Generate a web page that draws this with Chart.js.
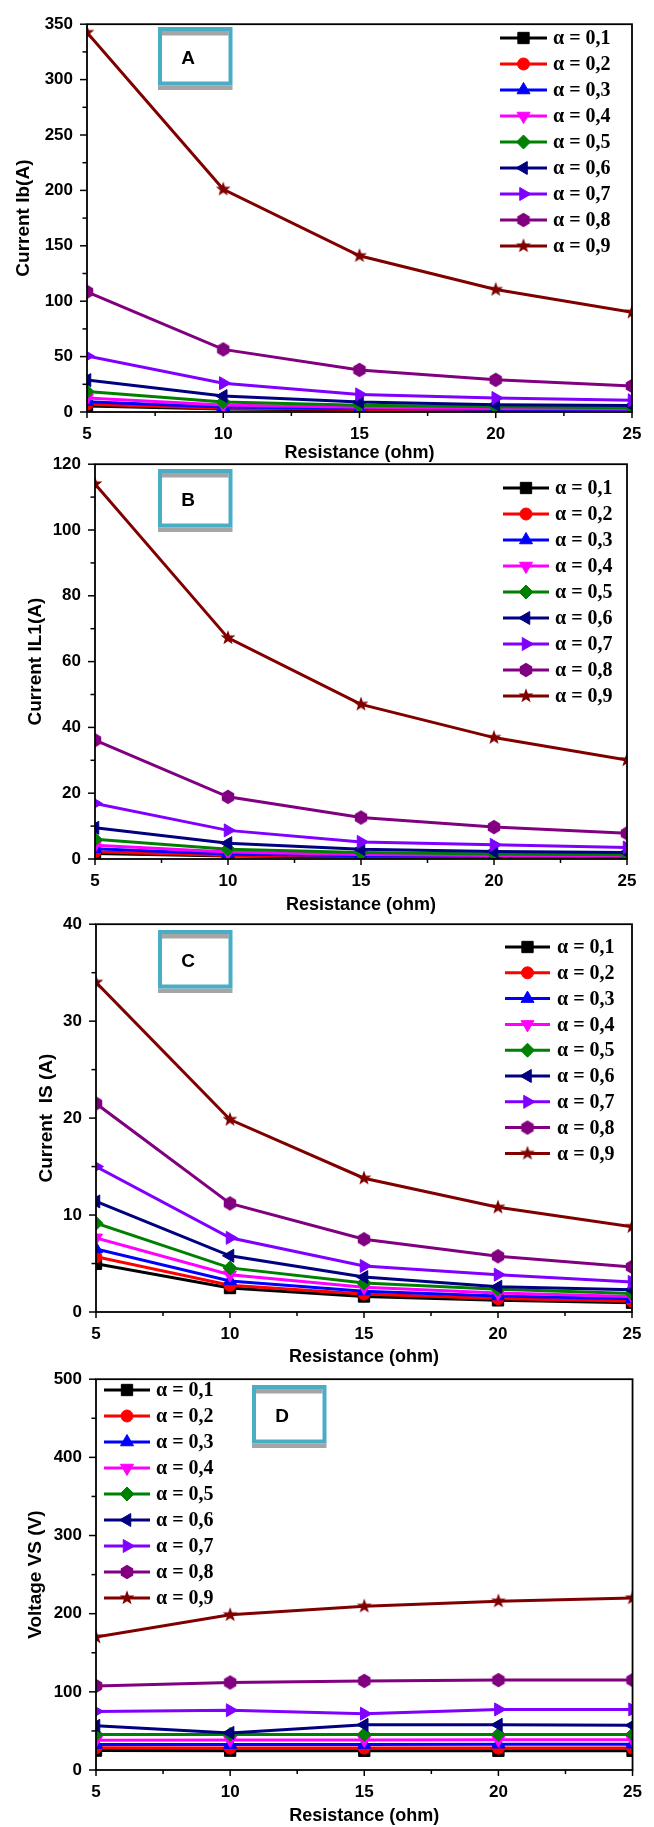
<!DOCTYPE html>
<html>
<head>
<meta charset="utf-8">
<script src="https://cdn.jsdelivr.net/npm/chart.js@4.4.0/dist/chart.umd.min.js"></script>
<style>
  html, body { margin: 0; padding: 0; background: #fff; }
  #page { position: relative; width: 654px; height: 1827px; overflow: hidden; background: #fff; }
  #page canvas { position: absolute; left: 0; }
</style>
</head>
<body>
<div id="page">
  <canvas id="chartA" width="654" height="470" style="top:0px"></canvas>
  <canvas id="chartB" width="654" height="480" style="top:440px"></canvas>
  <canvas id="chartC" width="654" height="470" style="top:900px"></canvas>
  <canvas id="chartD" width="654" height="472" style="top:1355px"></canvas>
</div>
<script>
// ── data ──
const resistance = [5, 10, 15, 20, 25];
const resistanceTicks = [5, 10, 15, 20, 25];
const alphaNames = ['α = 0,1','α = 0,2','α = 0,3','α = 0,4','α = 0,5','α = 0,6','α = 0,7','α = 0,8','α = 0,9'];

// A: current Ib (A)
const currentIb = [
  [5.5, 2.8, 1.8, 1.4, 1.1],
  [7.1, 3.4, 2.4, 1.7, 1.4],
  [9.3, 4.6, 3.1, 2.4, 2.0],
  [12.7, 6.4, 4.3, 3.2, 2.7],
  [18.4, 9.1, 6.0, 4.7, 3.8],
  [28.8, 14.4, 9.0, 6.6, 5.8],
  [50.5, 26.0, 15.9, 12.6, 10.6],
  [108.5, 56.5, 38.0, 29.0, 23.5],
  [342.5, 201, 141, 110.5, 90]
];
const ibTicks = [0, 50, 100, 150, 200, 250, 300, 350];

// B: current IL1 (A)
const currentIL1 = [
  [1.7, 0.9, 0.6, 0.45, 0.35],
  [2.2, 1.1, 0.8, 0.6, 0.45],
  [3.1, 1.5, 1.0, 0.8, 0.65],
  [4.2, 2.1, 1.4, 1.1, 0.9],
  [6.0, 3.0, 2.0, 1.5, 1.3],
  [9.5, 4.8, 3.0, 2.3, 2.0],
  [16.9, 8.7, 5.2, 4.3, 3.5],
  [36.1, 18.9, 12.6, 9.7, 7.8],
  [114, 67.2, 47, 36.9, 30.1]
];
const il1Ticks = [0, 20, 40, 60, 80, 100, 120];

// C: current IS (A)
const currentIS = [
  [4.97, 2.47, 1.6, 1.2, 0.96],
  [5.7, 2.75, 1.85, 1.38, 1.12],
  [6.5, 3.2, 2.15, 1.65, 1.37],
  [7.65, 3.85, 2.55, 1.95, 1.6],
  [9.15, 4.55, 3.0, 2.35, 1.9],
  [11.4, 5.8, 3.6, 2.6, 2.3],
  [15.0, 7.65, 4.75, 3.85, 3.1],
  [21.5, 11.2, 7.5, 5.75, 4.65],
  [34, 19.85, 13.8, 10.8, 8.8]
];
const isTicks = [0, 10, 20, 30, 40];

// D: voltage VS (V)
const voltageVS = [
  [24.8, 24.7, 24.6, 24.6, 24.6],
  [28.5, 28, 28, 28, 28],
  [32.5, 32.5, 32.5, 33, 33],
  [38.2, 38.5, 38.5, 38.8, 38.8],
  [45.5, 45.5, 45.5, 45.5, 45.5],
  [56.5, 47.5, 57.8, 57.8, 57.2],
  [75, 76.5, 72, 77.5, 77.5],
  [107.5, 112, 114, 115, 115],
  [170, 198.5, 209.5, 216, 220]
];
const vsTicks = [0, 100, 200, 300, 400, 500];

// ── styles ──
const colors = ['#000000','#ff0000','#0000ff','#ff00ff','#008000','#000080','#8000ff','#800080','#800000'];
const sansBold = "'Liberation Sans', Arial, sans-serif";

function shapeCanvas(color, kind) {
  const c = document.createElement('canvas');
  c.width = 18; c.height = 18;
  const g = c.getContext('2d');
  g.fillStyle = color;
  g.beginPath();
  if (kind === 'hex') {
    for (let k = 0; k < 6; k++) {
      const a = -Math.PI / 2 + k * Math.PI / 3;
      g.lineTo(9 + 7.2 * Math.cos(a), 9 + 7.2 * Math.sin(a));
    }
  } else {
    for (let k = 0; k < 10; k++) {
      const a = -Math.PI / 2 + k * Math.PI / 5;
      const r = k % 2 ? 3.2 : 7.8;
      g.lineTo(9 + r * Math.cos(a), 9 + r * Math.sin(a));
    }
  }
  g.closePath();
  g.fill();
  return c;
}

const markers = [
  { style: 'rect', rot: 0, r: 8 },
  { style: 'circle', rot: 0, r: 6 },
  { style: 'triangle', rot: 0, r: 7.5 },
  { style: 'triangle', rot: 180, r: 7.5 },
  { style: 'rectRot', rot: 0, r: 7 },
  { style: 'triangle', rot: 270, r: 7.5 },
  { style: 'triangle', rot: 90, r: 7.5 },
  { style: shapeCanvas(colors[7], 'hex'), rot: 0, r: 7 },
  { style: shapeCanvas(colors[8], 'star'), rot: 0, r: 7 }
];

// ── plugins ──
const frameTicks = {
  id: 'frameTicks',
  afterDatasetsDraw(chart) {
    const { ctx, chartArea: a, scales: { x, y } } = chart;
    ctx.save();
    ctx.strokeStyle = '#000';
    ctx.lineWidth = 1.8;
    ctx.strokeRect(a.left, a.top, a.right - a.left, a.bottom - a.top);
    ctx.lineWidth = 1.5;
    const seg = (x0, y0, x1, y1) => { ctx.beginPath(); ctx.moveTo(x0, y0); ctx.lineTo(x1, y1); ctx.stroke(); };
    const xs = x.options.ticks.stepSize, ys = y.options.ticks.stepSize;
    for (let v = x.min; v <= x.max + 1e-9; v += xs / 2) {
      const px = x.getPixelForValue(v);
      const major = Math.abs((v - x.min) / xs - Math.round((v - x.min) / xs)) < 1e-6;
      seg(px, a.bottom, px, a.bottom + (major ? 6 : 4));
    }
    for (let v = y.min; v <= y.max + 1e-9; v += ys / 2) {
      const py = y.getPixelForValue(v);
      const major = Math.abs(v / ys - Math.round(v / ys)) < 1e-6;
      seg(a.left, py, a.left - (major ? 7 : 4.5), py);
    }
    ctx.restore();
  }
};

const alphaLegend = {
  id: 'alphaLegend',
  afterDraw(chart, args, o) {
    const ctx = chart.ctx;
    ctx.save();
    chart.data.datasets.forEach((ds, i) => {
      const y = o.y + i * o.step;
      ctx.strokeStyle = ds.borderColor;
      ctx.lineWidth = 3;
      ctx.beginPath(); ctx.moveTo(o.x0, y); ctx.lineTo(o.x1, y); ctx.stroke();
      ctx.fillStyle = ds.pointBackgroundColor;
      ctx.lineWidth = 1;
      Chart.helpers.drawPoint(ctx, { pointStyle: ds.pointStyle, rotation: ds.pointRotation, radius: ds.pointRadius, borderWidth: 1 }, (o.x0 + o.x1) / 2, y);
      ctx.fillStyle = '#000';
      ctx.font = "bold 20px 'Liberation Serif', 'Times New Roman', serif";
      ctx.textAlign = 'left'; ctx.textBaseline = 'middle';
      ctx.fillText(ds.label, o.tx, y + 1);
    });
    ctx.restore();
  }
};

const panelTag = {
  id: 'panelTag',
  afterDraw(chart, args, o) {
    const ctx = chart.ctx;
    const x = o.x, y = o.y;
    ctx.save();
    ctx.fillStyle = '#fff';
    ctx.fillRect(x, y, 74.5, 58.5);
    ctx.fillStyle = '#a5a5a5';
    ctx.fillRect(x + 4, y + 4, 66.5, 4.5);
    ctx.fillRect(x, y + 58.5, 74.5, 4.5);
    ctx.strokeStyle = '#4bacc6';
    ctx.lineWidth = 4;
    ctx.strokeRect(x + 2, y + 2, 70.5, 54.5);
    ctx.fillStyle = '#000';
    ctx.font = 'bold 19px ' + sansBold;
    ctx.textAlign = 'center'; ctx.textBaseline = 'middle';
    ctx.fillText(o.letter, x + 30, y + 32);
    ctx.restore();
  }
};

// ── charts ──
function makeChart(p) {
  const ticks = p.yTicks;
  new Chart(document.getElementById(p.id), {
    type: 'line',
    data: {
      datasets: p.values.map((vals, i) => ({
        label: alphaNames[i],
        data: resistance.map((r, j) => ({ x: r, y: vals[j] })),
        borderColor: colors[i],
        backgroundColor: colors[i],
        pointBackgroundColor: colors[i],
        pointBorderColor: colors[i],
        pointBorderWidth: 1,
        pointStyle: markers[i].style,
        pointRotation: markers[i].rot,
        pointRadius: markers[i].r,
        borderWidth: 3,
        tension: 0,
        fill: false,
        clip: 0,
        order: p.values.length - i
      }))
    },
    options: {
      responsive: false,
      animation: false,
      layout: { padding: { top: p.top, right: 654 - p.right, left: 0, bottom: 0 } },
      plugins: {
        legend: { display: false },
        tooltip: { enabled: false },
        alphaLegend: p.legend,
        panelTag: p.tag
      },
      scales: {
        x: {
          type: 'linear',
          min: resistanceTicks[0], max: resistanceTicks[resistanceTicks.length - 1],
          afterFit(s) { s.height = p.height - p.bottom; },
          grid: { display: false, drawTicks: false },
          border: { display: false },
          ticks: { stepSize: resistanceTicks[1] - resistanceTicks[0], padding: 12, color: '#000', maxRotation: 0,
                   font: { family: sansBold, size: 17, weight: 'bold' } },
          title: { display: true, text: 'Resistance (ohm)', color: '#000',
                   font: { family: sansBold, size: 18, weight: 'bold' }, padding: { top: 0, bottom: p.xTitlePad } }
        },
        y: {
          min: ticks[0], max: ticks[ticks.length - 1],
          afterFit(s) { s.width = p.left; },
          grid: { display: false, drawTicks: false },
          border: { display: false },
          ticks: { stepSize: ticks[1] - ticks[0], padding: 14, color: '#000',
                   font: { family: sansBold, size: 17, weight: 'bold' } },
          title: { display: true, text: p.yTitle, color: '#000',
                   font: { family: sansBold, size: 19, weight: 'bold' }, padding: { top: p.yTitlePad, bottom: 0 } }
        }
      }
    },
    plugins: [frameTicks, alphaLegend, panelTag]
  });
}

const panels = [
  { id: 'chartA', values: currentIb, yTicks: ibTicks, yTitle: 'Current Ib(A)',
    height: 470, top: 15, bottom: 412, left: 87, right: 632, xTitlePad: 6, yTitlePad: 12,
    legend: { x0: 500, x1: 547, tx: 553, y: 38, step: 26 }, tag: { x: 158, y: 27, letter: 'A' } },
  { id: 'chartB', values: currentIL1, yTicks: il1Ticks, yTitle: 'Current IL1(A)',
    height: 480, top: 23, bottom: 419, left: 95, right: 627, xTitlePad: 4, yTitlePad: 24,
    legend: { x0: 503, x1: 549, tx: 555, y: 48, step: 26 }, tag: { x: 158, y: 29, letter: 'B' } },
  { id: 'chartC', values: currentIS, yTicks: isTicks, yTitle: 'Current  IS (A)',
    height: 470, top: 22, bottom: 412, left: 96, right: 632, xTitlePad: 2, yTitlePad: 35,
    legend: { x0: 505, x1: 550, tx: 557, y: 47, step: 25.8 }, tag: { x: 158, y: 30, letter: 'C' } },
  { id: 'chartD', values: voltageVS, yTicks: vsTicks, yTitle: 'Voltage VS (V)',
    height: 472, top: 20, bottom: 415, left: 96, right: 634, xTitlePad: 0, yTitlePad: 24,
    legend: { x0: 104, x1: 150, tx: 156, y: 35, step: 26 }, tag: { x: 252, y: 30, letter: 'D' } }
];

panels.forEach(makeChart);
</script>
</body>
</html>
